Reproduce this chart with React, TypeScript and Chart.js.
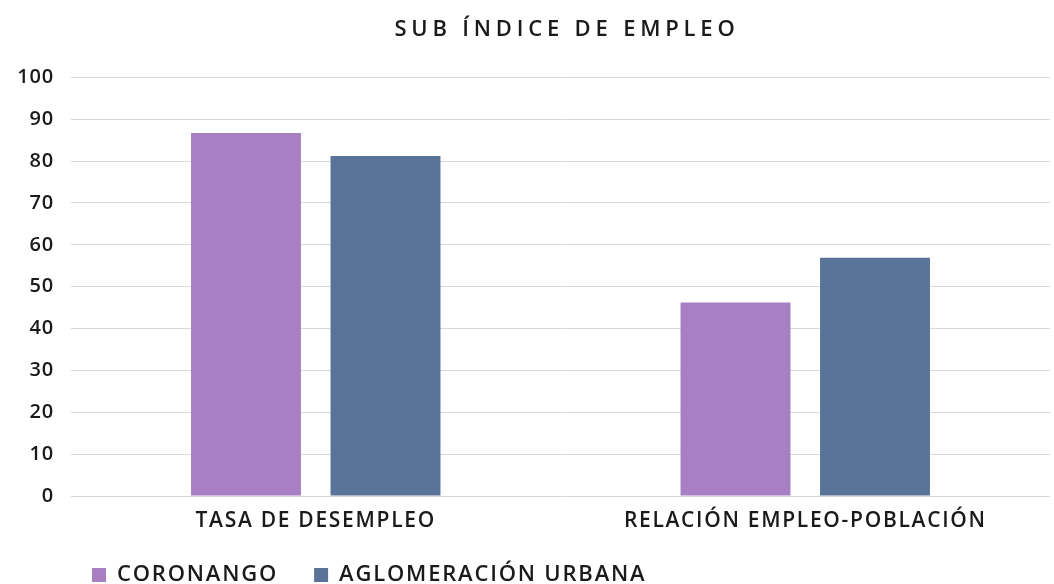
import React, { useEffect, useRef } from 'react';
import { Chart, registerables } from 'chart.js';

Chart.register(...registerables);

const titleText = 'SUB ÍNDICE DE EMPLEO';
const categories = ['TASA DE DESEMPLEO', 'RELACIÓN EMPLEO-POBLACIÓN'];
const seriesNames = ['CORONANGO', 'AGLOMERACIÓN URBANA'];
const coronango = [86.7, 46.2];
const aglomeracion = [81.2, 56.9];
const yTicks = [0, 10, 20, 30, 40, 50, 60, 70, 80, 90, 100];

const FONT = "'Open Sans', sans-serif";
const TEXT = '#1a1a1a';
const PURPLE = '#a97fc4';
const BLUE = '#5a7398';

const LEGEND_H = 50;
const XAXIS_H = 38;
const LEGEND_SP = '1.8px';

function wrapSpacing(obj: any, method: string, sp: string) {
  if (!obj || obj['__sp_' + method]) return;
  const orig = obj[method];
  obj[method] = function (...args: any[]) {
    const ctx = this.ctx;
    const prev = ctx.letterSpacing;
    ctx.letterSpacing = sp;
    try {
      return orig.apply(this, args);
    } finally {
      ctx.letterSpacing = prev;
    }
  };
  obj['__sp_' + method] = true;
}

const layoutPlugin = {
  id: 'layoutTweaks',
  beforeUpdate(chart: any) {
    chart.ctx.letterSpacing = LEGEND_SP;
  },
  beforeLayout(chart: any) {
    chart.ctx.letterSpacing = LEGEND_SP;
    const lg = chart.legend;
    if (lg && !lg.__fixedH) {
      const orig = lg.update;
      lg.update = function (...a: any[]) {
        orig.apply(this, a);
        this.height = LEGEND_H;
      };
      lg.__fixedH = true;
    }
  },
  afterLayout(chart: any) {
    const t = chart.titleBlock;
    if (t) {
      t.left = 80;
      t.right = 1054;
      t.top = 17;
      wrapSpacing(t, 'draw', '4.8px');
    }
    const lg = chart.legend;
    if (lg) {
      const pad = lg.options.labels.padding;
      lg.left = 92 - pad;
      lg.right = 1054;
      lg.top = 528;
      lg.bottom = 584;
      wrapSpacing(lg, 'draw', LEGEND_SP);
    }
    wrapSpacing(chart.scales.x, 'drawLabels', '1.7px');
    wrapSpacing(chart.scales.y, 'drawLabels', '0.8px');
  },
};

export default function App() {
  const ref = useRef<HTMLCanvasElement | null>(null);
  useEffect(() => {
    if (!ref.current) return;
    const chart = new Chart(ref.current, {
      type: 'bar',
      data: {
        labels: categories,
        datasets: [
          { label: seriesNames[0], data: coronango, backgroundColor: PURPLE, borderWidth: 0 },
          { label: seriesNames[1], data: aglomeracion, backgroundColor: BLUE, borderWidth: 0 },
        ],
      },
      options: {
        animation: false,
        responsive: true,
        maintainAspectRatio: false,
        layout: { padding: { left: 0, right: 4, top: 51, bottom: 0 } },
        datasets: { bar: { categoryPercentage: 0.57, barPercentage: 0.788 } },
        scales: {
          x: {
            afterFit: (s: any) => { s.height = XAXIS_H; },
            grid: { display: false, drawTicks: false },
            border: { display: false },
            ticks: { color: TEXT, font: { family: FONT, size: 21, weight: '600' }, padding: 12, maxRotation: 0 },
          },
          y: {
            min: 0,
            max: 100,
            afterFit: (s: any) => { s.width = 71; },
            afterBuildTicks: (s: any) => { s.ticks = yTicks.map((v) => ({ value: v })); },
            grid: { color: '#d9d9d9', lineWidth: 1, drawTicks: false },
            border: { display: false },
            ticks: { color: TEXT, font: { family: FONT, size: 20, weight: '600' }, padding: 17 },
          },
        },
        plugins: {
          title: {
            display: true,
            text: titleText,
            color: TEXT,
            font: { family: FONT, size: 22, weight: '600' },
            padding: { top: 0, bottom: 0 },
          },
          legend: {
            position: 'bottom',
            align: 'start',
            labels: {
              color: TEXT,
              font: { family: FONT, size: 22, weight: '600' },
              boxWidth: 14,
              boxHeight: 14,
              padding: 36,
            },
          },
          tooltip: { enabled: false },
        },
      },
      plugins: [layoutPlugin],
    });
    return () => chart.destroy();
  }, []);
  return (
    <div style={{ position: 'fixed', left: 0, top: 0, width: 1054, height: 584, background: '#fff' }}>
      <canvas ref={ref} />
    </div>
  );
}
